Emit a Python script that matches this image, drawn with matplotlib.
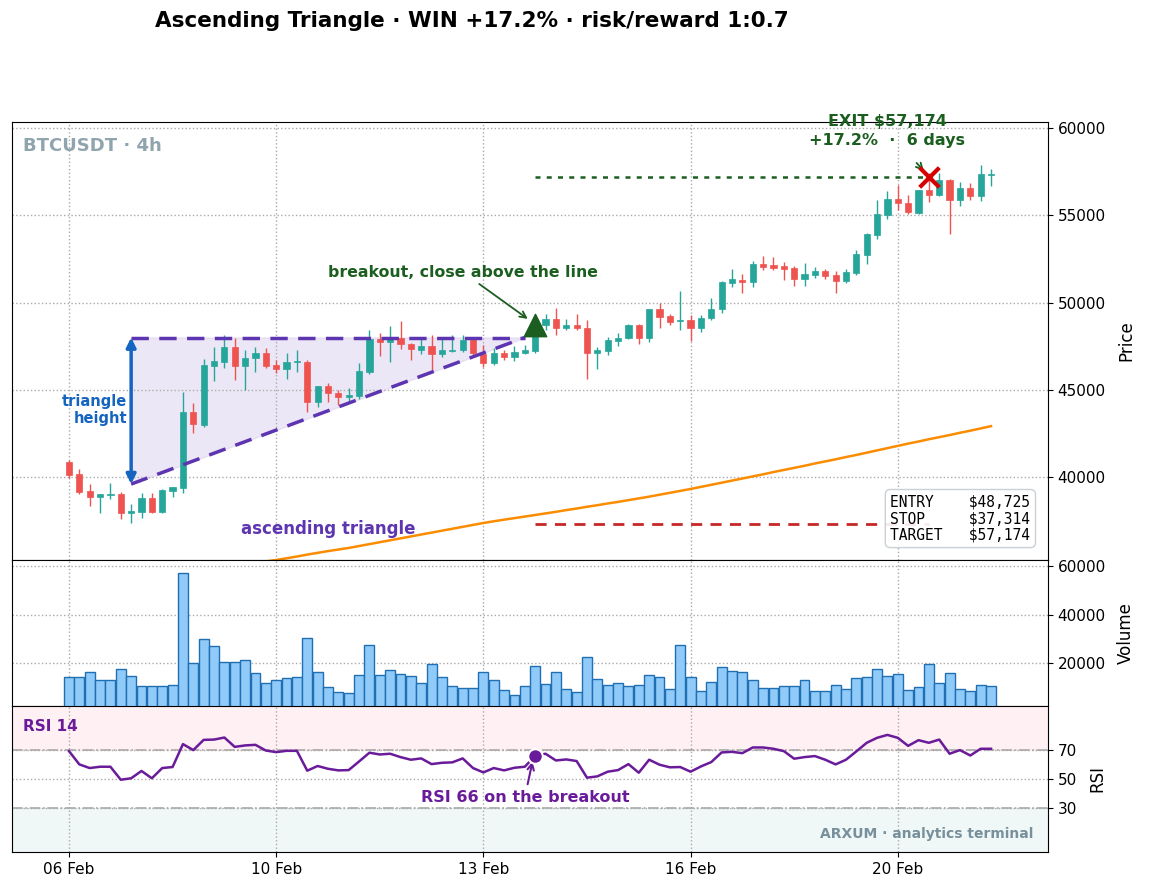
import numpy as np
import matplotlib
matplotlib.use("Agg")
import matplotlib.pyplot as plt
from matplotlib.patches import Rectangle

# ---- data (4h candles, index based x axis) ----
opens = [40876, 40155, 39198, 38837, 39000, 39044, 37921, 38013, 38780, 37978,
         39215, 39387, 43705, 42978, 46374, 46603, 47462, 46374, 46798, 47118,
         46414, 46222, 46620, 46622, 44331, 45212, 44793, 44565, 44640, 46030,
         47940, 47748, 48000, 47600, 47274, 47520, 47027, 47230, 47273, 47846,
         47044, 46545, 47118, 46855, 47118, 47235, 48725, 49088, 48550, 48705,
         48573, 47120, 47235, 47806, 47944, 48705, 47944, 49662, 49220, 48930,
         48990, 48550, 49146, 49662, 51150, 51280, 51185, 52200, 52142, 52085,
         51987, 51375, 51570, 51800, 51570, 51242, 51700, 52750, 53860, 55040,
         55960, 55730, 55160, 56440, 56190, 57010, 55864, 56570, 56110, 57330]
closes = [40115, 39158, 38837, 39044, 39044, 37921, 38070, 38780, 38013, 39255,
          39410, 43705, 43018, 46414, 46643, 47462, 46374, 46798, 47084, 46374,
          46185, 46603, 46660, 44331, 45212, 44793, 44565, 44696, 46088, 47940,
          47748, 47940, 47600, 47313, 47520, 47027, 47273, 47273, 47846, 47084,
          46545, 47118, 46855, 47176, 47273, 48725, 49088, 48550, 48705, 48550,
          47120, 47273, 47846, 47980, 48705, 47944, 49662, 49180, 48900, 48990,
          48550, 49146, 49662, 51185, 51340, 51185, 52200, 52045, 52010, 51910,
          51340, 51625, 51800, 51530, 51242, 51760, 52772, 53917, 55060, 55960,
          55710, 55195, 56440, 56190, 57010, 55864, 56570, 56110, 57350, 57370]
highs = [40974, 40441, 39580, 39050, 39673, 39150, 38436, 39067, 39100, 39340,
         39445, 44885, 44255, 46740, 47462, 48132, 48000, 47270, 47430, 47400,
         46700, 47084, 47310, 46700, 45212, 45366, 45020, 45100, 46545, 48419,
         48264, 48647, 48950, 47700, 47980, 48132, 47950, 48132, 48132, 47900,
         47560, 47400, 47300, 47500, 47550, 48900, 49375, 49696, 49050, 49370,
         49030, 47430, 48050, 48250, 48800, 48800, 49662, 49982, 49350, 50670,
         49280, 49300, 50290, 51250, 51900, 51665, 52400, 52658, 52600, 52300,
         52100, 52270, 52050, 51950, 51800, 51900, 53030, 54000, 55900, 56400,
         56720, 56150, 56460, 57430, 57430, 57100, 56910, 56850, 57870, 57680]
lows = [39943, 39026, 38339, 37921, 38723, 37578, 37350, 37635, 37960, 37950,
        38872, 39067, 42500, 42880, 45498, 46242, 45555, 44980, 46030, 46240,
        45950, 45594, 46030, 43740, 44000, 44331, 44123, 44310, 44500, 45900,
        46930, 46622, 47370, 46700, 47044, 46127, 46900, 47160, 47160, 47000,
        46283, 46400, 46700, 46650, 47050, 47100, 48418, 48132, 48418, 48450,
        45595, 46168, 47000, 47500, 47900, 47656, 47770, 48573, 48700, 48418,
        47790, 48300, 49000, 49400, 50900, 50577, 50900, 51890, 51850, 51320,
        50980, 50940, 51400, 51350, 50530, 51100, 51600, 52220, 53630, 54800,
        55290, 55100, 55050, 55770, 56100, 53917, 55520, 55900, 55830, 56665]
ma_line = [33200, 33300, 33410, 33510, 33620, 33720, 33830, 33930, 34040, 34140,
           34250, 34350, 34460, 34560, 34670, 34770, 34880, 34980, 35080, 35170,
           35250, 35350, 35450, 35560, 35660, 35760, 35850, 35940, 36050, 36160,
           36270, 36380, 36490, 36600, 36710, 36820, 36930, 37040, 37150, 37260,
           37370, 37470, 37560, 37650, 37740, 37830, 37920, 38010, 38110, 38200,
           38300, 38390, 38490, 38580, 38680, 38780, 38880, 38990, 39100, 39210,
           39320, 39440, 39560, 39680, 39800, 39920, 40040, 40160, 40290, 40410,
           40530, 40650, 40780, 40900, 41020, 41150, 41270, 41400, 41530, 41660,
           41790, 41920, 42040, 42170, 42290, 42410, 42540, 42660, 42790, 42920]
volumes = [14333, 14333, 16417, 13083, 13083, 17667, 14750, 10583, 10583, 10583,
           11000, 57250, 20167, 30167, 27250, 20583, 20583, 21417, 16000, 11833,
           13083, 13917, 14333, 30583, 16417, 10167, 8083, 7667, 15167, 27667,
           15167, 17250, 15583, 14750, 11833, 19750, 14333, 10583, 9750, 9750,
           16417, 13083, 8917, 6833, 10583, 18917, 11417, 16417, 9333, 8083,
           22667, 13500, 11000, 11833, 10583, 11000, 15167, 14333, 9333, 27667,
           14333, 8500, 12250, 18500, 16833, 16417, 13083, 9750, 9750, 10583,
           10583, 13083, 8500, 8500, 11000, 9333, 13917, 14333, 17667, 14750,
           15583, 8917, 10167, 19750, 11833, 16000, 9333, 8500, 11000, 10583]
rsi = [69.1, 60.0, 57.5, 58.4, 58.4, 49.5, 50.5, 55.5, 50.5, 57.5,
       58.2, 73.9, 69.8, 76.8, 77.0, 78.4, 72.0, 73.0, 73.4, 69.5,
       68.4, 69.3, 69.3, 55.7, 58.9, 57.0, 55.9, 56.1, 62.0, 68.0,
       66.8, 67.3, 65.0, 63.2, 64.1, 60.2, 61.1, 61.4, 64.1, 57.5,
       54.5, 57.5, 55.9, 57.7, 58.4, 65.9, 67.3, 62.7, 63.4, 62.3,
       50.9, 51.8, 55.0, 56.1, 60.2, 54.3, 63.2, 59.8, 58.0, 58.2,
       55.0, 58.6, 61.6, 68.2, 68.6, 67.7, 71.6, 71.6, 70.7, 69.1,
       63.9, 65.0, 65.7, 63.2, 60.0, 63.2, 68.9, 74.8, 78.2, 80.2,
       78.2, 72.7, 76.6, 74.8, 77.0, 67.3, 69.8, 66.1, 70.7, 70.7]
tick_pos = [0, 20, 40, 60, 80]
tick_labels = ["06 Feb", "10 Feb", "13 Feb", "16 Feb", "20 Feb"]

# trade / pattern levels
tri_start, tri_end = 6, 44
resistance = 48000
support_start = 39600
breakout_idx = 45
exit_idx = 83
entry, stop, target = 48725, 37314, 57174

UP = "#26a69a"
DOWN = "#ef5350"
PURPLE = "#5e35b1"
GREEN = "#1b5e20"
RSI_C = "#6a1b9a"

plt.rcParams['font.size'] = 11

fig = plt.figure(figsize=(11.49, 8.94), dpi=100)
L, W = 12 / 1149, 1036 / 1149
ax = fig.add_axes([L, 1 - 560 / 894, W, 438 / 894])
axv = fig.add_axes([L, 1 - 706 / 894, W, 146 / 894], sharex=ax)
axr = fig.add_axes([L, 1 - 852 / 894, W, 146 / 894], sharex=ax)

x = np.arange(len(opens))

# ---- candles ----
for i in x:
    o, c, h, l = opens[i], closes[i], highs[i], lows[i]
    col = UP if c >= o else DOWN
    ax.vlines(i, l, h, color=col, lw=1, zorder=3)
    ax.add_patch(Rectangle((i - 0.3, min(o, c)), 0.6, max(abs(c - o), 25),
                           facecolor=col, edgecolor=col, lw=0.5, zorder=4))

ax.plot(x, ma_line, color="#fb8c00", lw=1.8, zorder=2)

# triangle
sup = [support_start, resistance]
ax.fill_between([tri_start, tri_end], sup, [resistance, resistance],
                color="#d1c4e9", alpha=0.4, zorder=1)
ax.plot([tri_start, tri_end], [resistance, resistance], color=PURPLE, lw=2.5,
        ls=(0, (5, 3)), zorder=5)
ax.plot([tri_start, tri_end], sup, color=PURPLE, lw=2.5, ls=(0, (5, 3)), zorder=5)
ax.annotate("", xy=(tri_start, resistance), xytext=(tri_start, support_start),
            arrowprops=dict(arrowstyle="<|-|>", color="#1565c0", lw=2.5,
                            mutation_scale=14, shrinkA=0, shrinkB=0), zorder=6)
ax.text(tri_start - 0.4, 43850, "triangle\nheight", color="#1565c0",
        fontsize=10.5, fontweight="bold", ha="right", va="center", linespacing=1.1)
ax.text(25, 37050, "ascending triangle", color=PURPLE, fontsize=12,
        fontweight="bold", ha="center", va="center")

# target / stop
ax.plot([breakout_idx, exit_idx], [target, target], color=GREEN, lw=1.8,
        ls=(0, (2, 2.5)), zorder=2)
ax.plot([breakout_idx, exit_idx], [stop, stop], color="#c62828", lw=2,
        ls=(0, (4, 3)), zorder=2)

# breakout marker
ax.scatter([breakout_idx], [entry], marker="^", s=260, color=GREEN, zorder=7)
ax.annotate("breakout, close above the line", xy=(breakout_idx - 0.5, entry + 250),
            xytext=(38, 51750), color=GREEN, fontsize=11.3, fontweight="bold",
            ha="center", va="center",
            arrowprops=dict(arrowstyle="->", color=GREEN, lw=1.3))

# exit marker
ax.scatter([exit_idx], [target], marker="x", s=200, color="#d50000",
           linewidths=3, zorder=8)
ax.annotate("EXIT $57,174\n+17.2%  ·  6 days", xy=(exit_idx - 0.3, target + 250),
            xytext=(79, 59850), color=GREEN, fontsize=11.5, fontweight="bold",
            ha="center", va="center", annotation_clip=False, linespacing=1.35,
            arrowprops=dict(arrowstyle="->", color=GREEN, lw=1.3, shrinkA=12))

ax.text(0.011, 0.946, "BTCUSDT · 4h", transform=ax.transAxes, color="#90a4ae",
        fontsize=13, fontweight="bold", ha="left", va="center")
ax.text(0.983, 0.04, "ENTRY    ${:,}\nSTOP     ${:,}\nTARGET   ${:,}".format(entry, stop, target),
        transform=ax.transAxes, family="DejaVu Sans Mono", fontsize=10.5,
        ha="right", va="bottom", linespacing=1.12, zorder=10,
        bbox=dict(boxstyle="round,pad=0.35", facecolor="white", edgecolor="#c5ccd0",
                  alpha=0.9))

ax.set_xlim(-5.5, 94.5)
ax.set_ylim(35250, 60350)
ax.set_yticks([40000, 45000, 50000, 55000, 60000])
ax.yaxis.tick_right()
ax.yaxis.set_label_position("right")
ax.set_ylabel("Price", fontsize=12, labelpad=8)
ax.grid(True, ls=":", color="#aaaaaa", lw=1)
ax.tick_params(axis="x", labelbottom=False, length=0)

# ---- volume ----
axv.bar(x, volumes, width=0.95, color="#90caf9", edgecolor="#1f6fb2", lw=1, zorder=3)
axv.set_ylim(2500, 62500)
axv.set_yticks([20000, 40000, 60000])
axv.yaxis.tick_right()
axv.yaxis.set_label_position("right")
axv.set_ylabel("Volume", fontsize=12, labelpad=8)
axv.grid(True, ls=":", color="#aaaaaa", lw=1)
axv.tick_params(axis="x", labelbottom=False, length=0)

# ---- RSI ----
axr.axhspan(70, 100, color="#ffebee", alpha=0.7, zorder=0)
axr.axhspan(0, 30, color="#e0f2f1", alpha=0.5, zorder=0)
axr.axhline(70, color="#aaaaaa", ls="-.", lw=1.2, zorder=1)
axr.axhline(30, color="#aaaaaa", ls="-.", lw=1.2, zorder=1)
axr.plot(x, rsi, color=RSI_C, lw=1.8, zorder=3)
axr.scatter([breakout_idx], [rsi[breakout_idx]], s=110, color=RSI_C,
            edgecolor="white", lw=1.5, zorder=5)
axr.annotate("RSI 66 on the breakout", xy=(breakout_idx - 0.2, rsi[breakout_idx] - 2),
             xytext=(44, 37.5), color=RSI_C, fontsize=11.5, fontweight="bold",
             ha="center", va="center",
             arrowprops=dict(arrowstyle="->", color=RSI_C, lw=1.5))
axr.text(0.011, 0.86, "RSI 14", transform=axr.transAxes, color=RSI_C,
         fontsize=11, fontweight="bold", ha="left", va="center")
axr.text(0.986, 0.12, "ARXUM · analytics terminal", transform=axr.transAxes,
         color="#78909c", fontsize=10, fontweight="bold", ha="right", va="center")
axr.set_ylim(0, 100)
axr.set_yticks([30, 50, 70])
axr.yaxis.tick_right()
axr.yaxis.set_label_position("right")
axr.set_ylabel("RSI", fontsize=12, labelpad=8)
axr.grid(True, ls=":", color="#aaaaaa", lw=1)
axr.set_xticks(tick_pos)
axr.set_xticklabels(tick_labels)

fig.text(472 / 1149, 1 - 21 / 894, "Ascending Triangle · WIN +17.2% · risk/reward 1:0.7",
         fontsize=15.5, fontweight="bold", ha="center", va="center")

fig.savefig("out.png", dpi=100)
